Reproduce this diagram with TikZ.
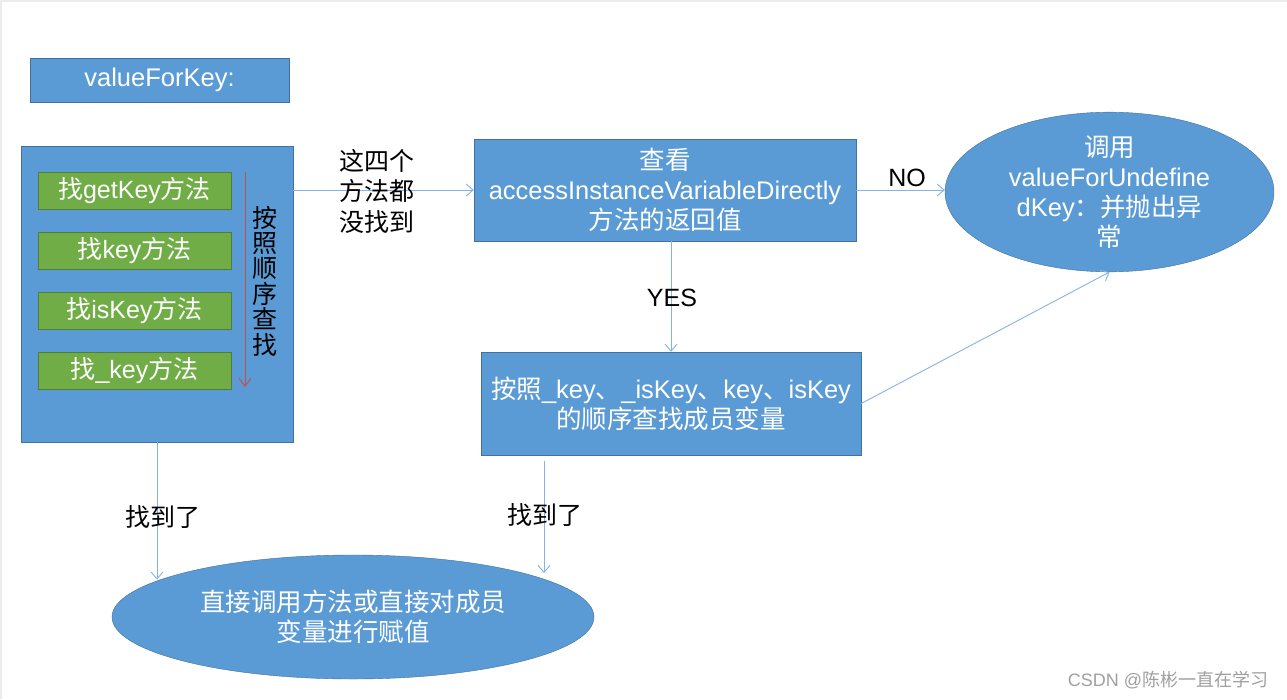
\documentclass[tikz,border=0pt]{standalone}
\usepackage{fontspec}
\setmainfont{Liberation Sans}
\newfontfamily\cjk{Noto Sans CJK SC}
\newcommand\zh[1]{{\cjk #1}}
\usetikzlibrary{shapes.geometric,arrows.meta}
\definecolor{boxblue}{HTML}{5B9BD5}
\definecolor{boxedge}{HTML}{41719C}
\definecolor{boxgreen}{HTML}{70AD47}
\definecolor{greenedge}{HTML}{507E32}
\definecolor{flowblue}{HTML}{85B3E3}
\definecolor{orderred}{HTML}{C0504D}
\tikzset{
  bluebox/.style={draw=boxedge, fill=boxblue, text=white, inner sep=0pt, align=center, font=\fontsize{25.5}{30}\selectfont},
  blueoval/.style={bluebox, ellipse},
  greenbox/.style={draw=greenedge, fill=boxgreen, text=white, inner sep=0pt, minimum width=193pt, minimum height=37pt, font=\fontsize{25}{30}\selectfont},
  flow/.style={draw=flowblue, line width=0.9pt, -{Straight Barb[length=7pt,width=12pt]}},
  note/.style={text=black, align=center, font=\fontsize{25}{30}\selectfont}
}
\begin{document}
\begin{tikzpicture}[x=1pt, y=-1pt]
\useasboundingbox (0,0) rectangle (1287,699);
\draw[gray!15, line width=2pt] (1,699) -- (1,1) -- (1287,1);

% 标题
\node[bluebox, minimum width=259pt, minimum height=44pt] (title) at (159.5,80) {valueForKey:};

% 四个方法
\node[bluebox, minimum width=272pt, minimum height=296pt] (lookup) at (157,294) {};
\node[greenbox] (getkey) at (134.5,190.5) {\zh{找}getKey\zh{方法}};
\node[greenbox] (key) at (134.5,250.5) {\zh{找}key\zh{方法}};
\node[greenbox] (iskey) at (134.5,310.5) {\zh{找}isKey\zh{方法}};
\node[greenbox] (ukey) at (134.5,370.5) {\zh{找}\_key\zh{方法}};
\coordinate (ordtop) at (245,172);
\coordinate (ordbot) at (245,387);
\draw[orderred, line width=1pt, -{Straight Barb[length=8pt,width=12pt]}] (ordtop) -- (ordbot);
\node[note, font=\fontsize{25}{25.4}\selectfont\cjk] (order) at (265,281) {按\\照\\顺\\序\\查\\找};

% 判断
\node[bluebox, minimum width=382pt, minimum height=102pt] (check) at (665,190) {\zh{查看}\\accessInstanceVariableDirectly\\\zh{方法的返回值}};
\node[blueoval, minimum width=329pt, minimum height=142pt] (undef) at (1109.5,192) {\zh{调用}\\valueForUndefine\\dKey\zh{：并抛出异}\\\zh{常}};
\node[bluebox, minimum width=380pt, minimum height=103pt] (scan) at (671,403.5) {\zh{按照}\_key\zh{、}\_isKey\zh{、}key\zh{、}isKey\\\zh{的顺序查找成员变量}};
\node[blueoval, minimum width=482pt, minimum height=124pt] (assign) at (353,617) {\zh{直接调用方法或直接对成员}\\\zh{变量进行赋值}};

% 连线
\draw[flow] (lookup.east |- check.west) -- (check.west);
\node[note, font=\fontsize{25}{30.5}\selectfont\cjk] (miss) at (377,191) {这四个\\方法都\\没找到};
\draw[flow] (check.east) -- (check.east -| undef.west);
\node[note] (no) at (907,178) {NO};
\draw[flow] (scan.north |- check.south) -- (scan.north);
\node[note] (yes) at (672,298) {YES};
\draw[flow] (scan.east) -- (undef.south);
\draw[flow] (lookup.south) -- (lookup.south |- assign.169);
\node[note, font=\fontsize{25}{30}\selectfont\cjk] (foundl) at (163,517) {找到了};
\coordinate (midtop) at (544,461);
\coordinate (midtip) at (544,573);
\draw[flow] (midtop) -- (midtip);
\node[note, font=\fontsize{25}{30}\selectfont\cjk] (foundr) at (545,515) {找到了};

% 水印
\node[text=gray!75, font=\fontsize{18}{20}\selectfont] (mark) at (1168,680) {CSDN @\zh{陈彬一直在学习}};
\end{tikzpicture}
\end{document}
